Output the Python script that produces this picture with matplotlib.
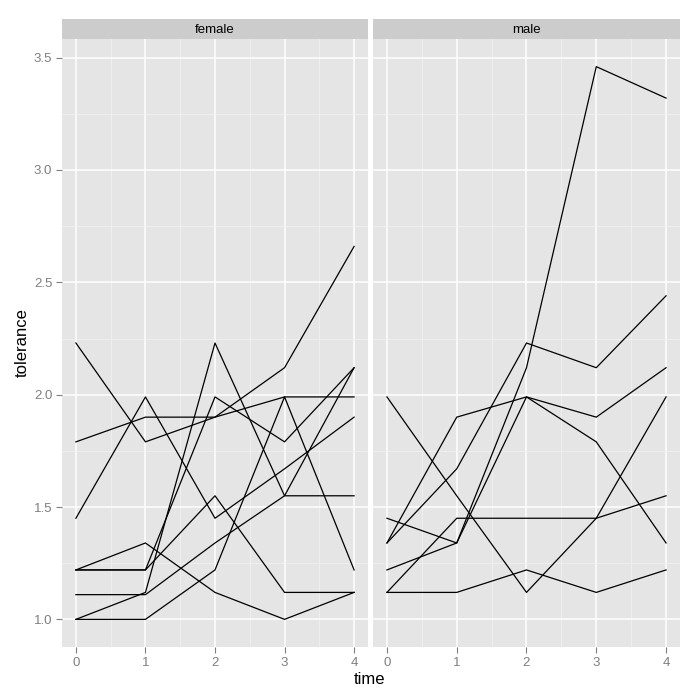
import matplotlib
matplotlib.use("Agg")
import matplotlib.pyplot as plt
from matplotlib.ticker import MultipleLocator

plt.rcParams['font.family'] = ['Liberation Sans', 'DejaVu Sans']

time = [0, 1, 2, 3, 4]
female_ids = ["9", "314", "442", "569", "723", "918", "1542", "1552", "1653"]
female_tol = [
    [2.23, 1.79, 1.90, 2.12, 2.66],
    [1.22, 1.22, 1.55, 1.12, 1.12],
    [1.45, 1.99, 1.45, 1.67, 1.90],
    [1.79, 1.90, 1.90, 1.99, 1.99],
    [1.22, 1.34, 1.12, 1.00, 1.12],
    [1.00, 1.00, 1.22, 1.99, 1.22],
    [1.22, 1.22, 1.99, 1.79, 2.12],
    [1.00, 1.12, 2.23, 1.55, 1.55],
    [1.11, 1.11, 1.34, 1.55, 2.12],
]
male_ids = ["45", "268", "514", "624", "949", "978", "1105"]
male_tol = [
    [1.12, 1.45, 1.45, 1.45, 1.99],
    [1.45, 1.34, 1.99, 1.79, 1.34],
    [1.34, 1.67, 2.23, 2.12, 2.44],
    [1.12, 1.12, 1.22, 1.12, 1.22],
    [1.99, 1.55, 1.12, 1.45, 1.55],
    [1.22, 1.34, 2.12, 3.46, 3.32],
    [1.34, 1.90, 1.99, 1.90, 2.12],
]
panels = ["female", "male"]
yticks = [1.0, 1.5, 2.0, 2.5, 3.0, 3.5]
xticks = [0, 1, 2, 3, 4]

W = H = 700
fig = plt.figure(figsize=(7, 7), dpi=100)

def box(x0, y0, x1, y1):
    return [x0 / W, 1 - y1 / H, (x1 - x0) / W, (y1 - y0) / H]

panel_x = [(62, 368), (373, 680)]
ptop, pbot = 39, 647
strip_top = 19

data = [female_tol, male_tol]
axes = []
for i, (name, (x0, x1)) in enumerate(zip(panels, panel_x)):
    ax = fig.add_axes(box(x0, ptop, x1, pbot))
    ax.set_facecolor('#E5E5E5')
    for s in ax.spines.values():
        s.set_visible(False)
    for row in data[i]:
        ax.plot(time, row, color='black', lw=0.9, zorder=3)
    ax.set_xlim(-0.2, 4.2)
    ax.set_ylim(0.877, 3.583)
    ax.set_xticks(xticks)
    ax.set_yticks(yticks)
    ax.xaxis.set_minor_locator(MultipleLocator(0.5))
    ax.yaxis.set_minor_locator(MultipleLocator(0.25))
    ax.grid(which='major', color='white', lw=1.1, zorder=1)
    ax.grid(which='minor', color='#F2F2F2', lw=0.5, zorder=1)
    ax.set_axisbelow(True)
    ax.tick_params(which='minor', length=0)
    ax.tick_params(which='major', length=4, width=0.8, color='#7F7F7F',
                   labelcolor='#7F7F7F', labelsize=9.5, pad=3)
    if i == 0:
        ax.yaxis.set_major_formatter(matplotlib.ticker.FormatStrFormatter('%.1f'))
    else:
        ax.tick_params(axis='y', which='major', left=False, labelleft=False)
    # strip
    sax = fig.add_axes(box(x0, strip_top, x1, ptop))
    sax.set_facecolor('#CCCCCC')
    sax.set_xticks([]); sax.set_yticks([])
    for s in sax.spines.values():
        s.set_visible(False)
    sax.text(0.5, 0.45, name, ha='center', va='center', fontsize=9.5,
             transform=sax.transAxes)
    axes.append(ax)

fig.text(370 / W, 1 - 680 / H, "time", ha='center', va='center', fontsize=12)
fig.text(22 / W, 1 - 343 / H, "tolerance", ha='center', va='center',
         fontsize=12, rotation=90)

fig.savefig("out.png", dpi=100, facecolor='white')
